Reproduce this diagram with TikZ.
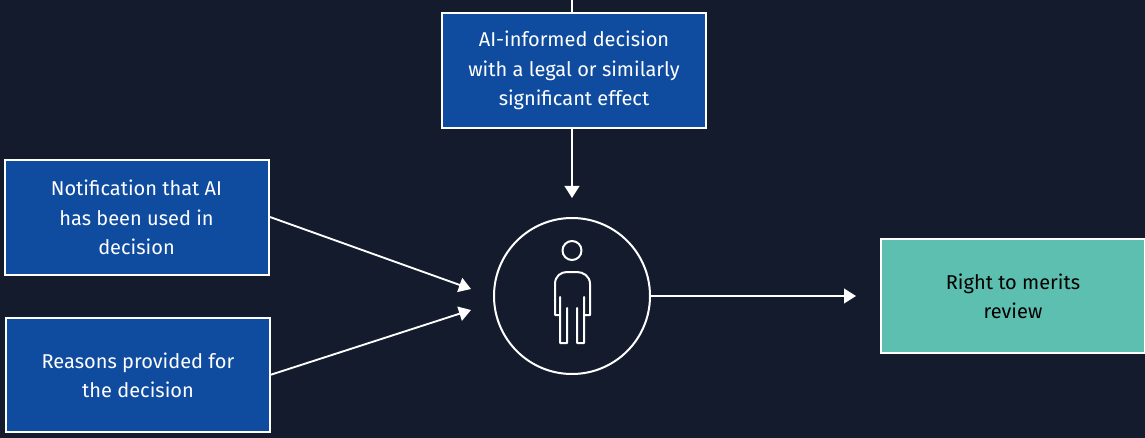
\documentclass[tikz,border=0pt]{standalone}
\usepackage{fontspec}
\setmainfont{Fira Sans}
\usetikzlibrary{arrows.meta}
\definecolor{bg}{HTML}{141B2D}
\definecolor{bluebox}{HTML}{0F4C9F}
\definecolor{teal}{HTML}{5DBFAF}
\tikzset{
 x=0.75pt,y=-0.75pt,
 bx/.style={draw=white,line width=1.5pt,fill=bluebox,text=white,align=center,font=\fontsize{15}{22}\selectfont,inner sep=0pt},
 conn/.style={draw=white,line width=1.4pt,-{Triangle[length=9pt,width=11pt]}}
}
\begin{document}
\begin{tikzpicture}
\useasboundingbox[fill=bg] (0,0) rectangle (1145,438);
\node[bx,minimum width=198pt,minimum height=86pt] (top) at (574,70.5) {AI-informed decision\\with a legal or similarly\\significant effect};
\node[bx,minimum width=198pt,minimum height=86pt] (notif) at (136.5,217.5) {Notification that AI\\has been used in\\decision};
\node[bx,minimum width=198pt,minimum height=86pt] (reas) at (138,375) {Reasons provided for\\the decision};
\node[bx,fill=teal,text=black,minimum width=198pt,minimum height=86pt] (right) at (1013,296) {Right to merits\\review};
\node[draw=white,line width=1.5pt,circle,minimum size=117pt,inner sep=0pt] (person) at (572,296) {};
\coordinate (topin) at (572,0);
\coordinate (a1) at (572,198);
\coordinate (a2) at (471,289);
\coordinate (a3) at (471,310);
\coordinate (a4) at (856,296);
\draw[draw=white,line width=1.4pt] (topin) -- (top.north -| topin);
\draw[conn] (top.south -| a1) -- (a1);
\draw[conn] (270,217) -- (a2);
\draw[conn] (270,375) -- (a3);
\draw[conn] (person.east) -- (a4);
\draw[white,line width=1.5pt,line join=round] (572,250.5) circle[radius=9.5];
\draw[white,line width=1.5pt,line join=round,line cap=round]
 (559.5,315) -- (555,315) -- (555,284) .. controls (555,276) and (561,272) .. (567,272) -- (577,272) .. controls (583,272) and (590,276) .. (590,284) -- (590,315) -- (584.5,315)
 (560,297) -- (560,343) -- (567,343) -- (567,308)
 (584,297) -- (584,343) -- (577,343) -- (577,308);
\end{tikzpicture}
\end{document}
